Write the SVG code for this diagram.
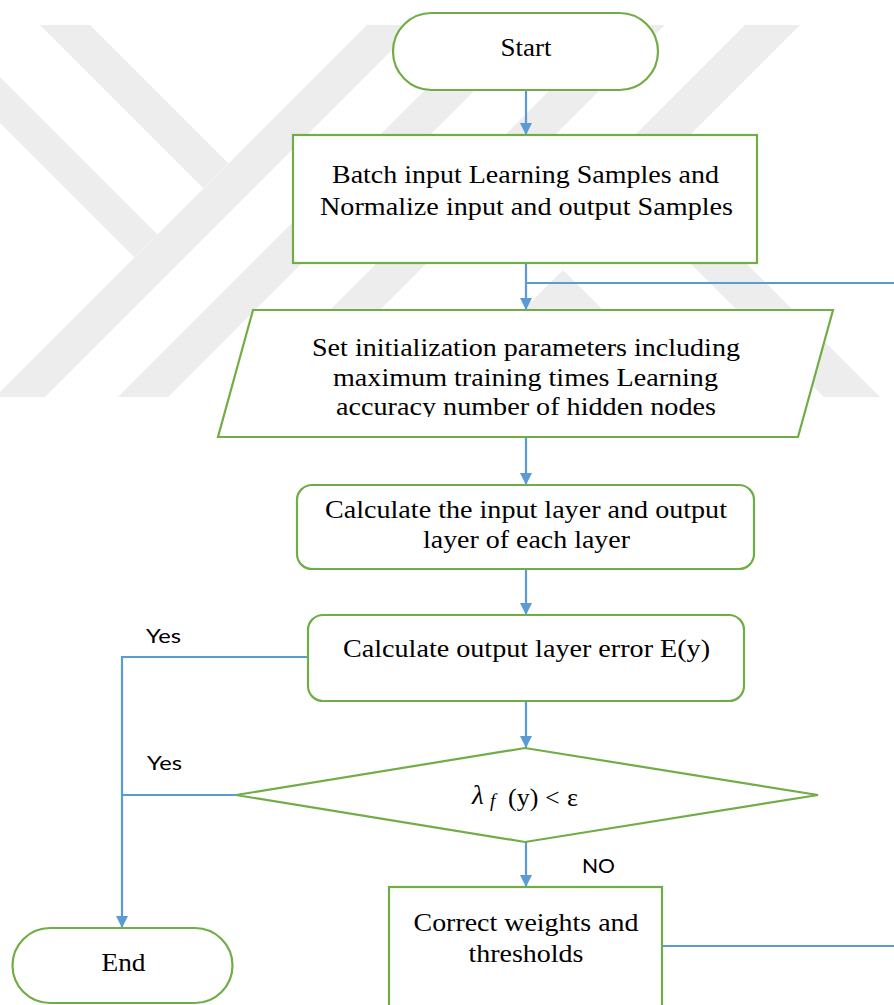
<svg xmlns="http://www.w3.org/2000/svg" width="894" height="1005" viewBox="0 0 894 1005">
  <defs>
    <style>
      .node { fill: #ffffff; stroke: #70AD47; stroke-width: 2.2; }
      .edge { fill: none; stroke: #5B9BD5; stroke-width: 2.2; }
      .lbl { font-family: "Liberation Serif", "Times New Roman", serif; font-size: 26px; fill: #000000; text-anchor: middle; }
      .tag { font-family: Lato, "Liberation Sans", sans-serif; font-size: 20px; fill: #000000; }
      .wm { fill: #ededed; }
    </style>
    <marker id="arrow" viewBox="0 0 12 12" refX="12" refY="6" markerWidth="12" markerHeight="12" markerUnits="userSpaceOnUse" orient="auto">
      <path d="M0,0 L12,6 L0,12 z" fill="#5B9BD5"/>
    </marker>
    <clipPath id="wmClip">
      <rect x="0" y="25" width="894" height="372"/>
    </clipPath>
    <clipPath id="lineClip">
      <rect x="300" y="390" width="450" height="27"/>
    </clipPath>
  </defs>

  <rect x="0" y="0" width="894" height="1005" fill="#ffffff"/>

  <!-- faint background emblem -->
  <g id="watermark" clip-path="url(#wmClip)">
    <polygon class="wm" points="40,25 90,25 228.5,163.5 203.5,188.5"/>
    <polygon class="wm" points="367,25 417,25 45,397 -5,397"/>
    <polygon class="wm" points="0,77 157.5,234.5 134.5,257.5 0,123"/>
    <polygon class="wm" points="490,25 540,25 168,397 118,397"/>
    <polygon class="wm" points="615,25 665,25 293,397 243,397"/>
    <polygon class="wm" points="745,25 800,25 654,171 880,397 824,397 598.5,171.5"/>
    <polygon class="wm" points="563,270 690,397 640,397 563,320 486,397 436,397"/>
  </g>

  <!-- connectors -->
  <g id="connectors">
    <path class="edge" d="M526,90 V135" marker-end="url(#arrow)"/>
    <path class="edge" d="M526,263 V310" marker-end="url(#arrow)"/>
    <path class="edge" d="M526,283 H894"/>
    <path class="edge" d="M526,437 V485" marker-end="url(#arrow)"/>
    <path class="edge" d="M526,569 V615" marker-end="url(#arrow)"/>
    <path class="edge" d="M526,701 V748" marker-end="url(#arrow)"/>
    <path class="edge" d="M526,842 V887" marker-end="url(#arrow)"/>
    <path class="edge" d="M308,657 H122 V928" marker-end="url(#arrow)"/>
    <path class="edge" d="M236,795 H122"/>
    <path class="edge" d="M662,946 H894"/>
    <text class="tag" x="146" y="643" textLength="35" lengthAdjust="spacingAndGlyphs">Yes</text>
    <text class="tag" x="147" y="770" textLength="35" lengthAdjust="spacingAndGlyphs">Yes</text>
    <text class="tag" x="582" y="873" textLength="33" lengthAdjust="spacingAndGlyphs">NO</text>
  </g>

  <g id="start">
    <rect class="node" x="393" y="13" width="265" height="77" rx="38.5" ry="38.5"/>
    <text class="lbl" x="526" y="56" textLength="51" lengthAdjust="spacingAndGlyphs">Start</text>
  </g>

  <g id="batch-input">
    <rect class="node" x="293" y="135" width="464" height="128"/>
    <text class="lbl" x="525.5" y="183" textLength="387" lengthAdjust="spacingAndGlyphs">Batch input Learning Samples and</text>
    <text class="lbl" x="526.5" y="215" textLength="413" lengthAdjust="spacingAndGlyphs">Normalize input and output Samples</text>
  </g>

  <g id="init-params">
    <polygon class="node" points="253,310 833,310 798,437 218,437"/>
    <text class="lbl" x="526" y="356" textLength="428" lengthAdjust="spacingAndGlyphs">Set initialization parameters including</text>
    <text class="lbl" x="525.5" y="386" textLength="385" lengthAdjust="spacingAndGlyphs">maximum training times Learning</text>
    <text class="lbl" x="526" y="415" textLength="380" lengthAdjust="spacingAndGlyphs" clip-path="url(#lineClip)">accuracy number of hidden nodes</text>
  </g>

  <g id="layer-calc">
    <rect class="node" x="297" y="485" width="457" height="84" rx="15" ry="15"/>
    <text class="lbl" x="526" y="518" textLength="402" lengthAdjust="spacingAndGlyphs">Calculate the input layer and output</text>
    <text class="lbl" x="526.5" y="548" textLength="207" lengthAdjust="spacingAndGlyphs">layer of each layer</text>
  </g>

  <g id="output-error">
    <rect class="node" x="308" y="615" width="436" height="86" rx="15" ry="15"/>
    <text class="lbl" x="526.5" y="657" textLength="367" lengthAdjust="spacingAndGlyphs">Calculate output layer error E(y)</text>
  </g>

  <g id="decision">
    <polygon class="node" points="236,795 525,748 818,795 525,842"/>
    <text font-family="'Liberation Serif', 'Times New Roman', serif" font-size="26" fill="#000000">
      <tspan x="472" y="804" font-style="italic" font-size="27">λ</tspan><tspan x="490" y="807" font-style="italic" font-size="19">f</tspan><tspan x="508" y="806">(y)</tspan><tspan x="545" y="806">&lt;</tspan><tspan x="567" y="806">ε</tspan>
    </text>
  </g>

  <g id="correct-weights">
    <rect class="node" x="389" y="887" width="273" height="140"/>
    <text class="lbl" x="526" y="931" textLength="225" lengthAdjust="spacingAndGlyphs">Correct weights and</text>
    <text class="lbl" x="526" y="962" textLength="115" lengthAdjust="spacingAndGlyphs">thresholds</text>
  </g>

  <g id="end">
    <rect class="node" x="12.5" y="928" width="220" height="75" rx="37.5" ry="37.5"/>
    <text class="lbl" x="123.5" y="971" textLength="44" lengthAdjust="spacingAndGlyphs">End</text>
  </g>
</svg>
